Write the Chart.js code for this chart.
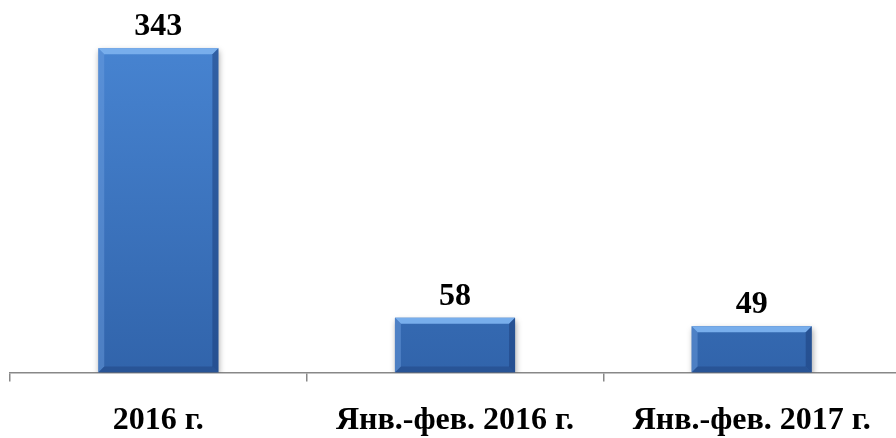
<!DOCTYPE html>
<html>
<head>
<meta charset="utf-8">
<script src="https://cdn.jsdelivr.net/npm/chart.js@4.4.1/dist/chart.umd.min.js"></script>
<style>
  html, body { margin: 0; padding: 0; background: #fff; overflow: hidden; }
  #wrap { width: 900px; height: 438px; }
</style>
</head>
<body>
<div id="wrap"><canvas id="chart"></canvas></div>
<script>
// data
const categories = ['2016 г.', 'Янв.-фев. 2016 г.', 'Янв.-фев. 2017 г.'];
const values = [343, 58, 49];
const yMax = 394;

const FONT = '"Liberation Serif", "Times New Roman", serif';

// soft shadow under bars, bevel look on each bar + value label above
const bevelPlugin = {
    id: 'bevel',
    beforeDatasetsDraw(chart) {
        const c = chart.ctx;
        c.save();
        c.shadowColor = 'rgba(0,0,0,0.35)';
        c.shadowBlur = 6;
        c.shadowOffsetX = 1;
        c.shadowOffsetY = 3;
    },
    afterDatasetsDraw(chart) {
        const c = chart.ctx;
        c.restore();
        const meta = chart.getDatasetMeta(0);
        meta.data.forEach((bar, i) => {
            const left = bar.x - bar.width / 2;
            const right = bar.x + bar.width / 2;
            const top = bar.y;
            const bottom = bar.base;
            const b = 6;
            c.save();
            // top edge
            c.fillStyle = '#78aeec';
            c.beginPath();
            c.moveTo(left, top); c.lineTo(right, top);
            c.lineTo(right - b, top + b); c.lineTo(left + b, top + b);
            c.closePath(); c.fill();
            // left edge
            c.fillStyle = 'rgba(110,160,225,0.45)';
            c.beginPath();
            c.moveTo(left, top); c.lineTo(left + b, top + b);
            c.lineTo(left + b, bottom - b); c.lineTo(left, bottom);
            c.closePath(); c.fill();
            // right edge
            c.fillStyle = 'rgba(25,60,120,0.5)';
            c.beginPath();
            c.moveTo(right, top); c.lineTo(right - b, top + b);
            c.lineTo(right - b, bottom - b); c.lineTo(right, bottom);
            c.closePath(); c.fill();
            // bottom edge
            c.fillStyle = 'rgba(30,65,125,0.45)';
            c.beginPath();
            c.moveTo(left, bottom); c.lineTo(left + b, bottom - b);
            c.lineTo(right - b, bottom - b); c.lineTo(right, bottom);
            c.closePath(); c.fill();
            // value label
            c.fillStyle = '#000';
            c.font = 'bold 32px ' + FONT;
            c.textAlign = 'center';
            c.textBaseline = 'alphabetic';
            c.fillText(values[i], bar.x, top - 13);
            c.restore();
        });
    }
};

const ctx = document.getElementById('chart').getContext('2d');
const grad = (context) => {
    const area = context.chart.chartArea;
    if (!area) return '#3d72bf';
    const g = context.chart.ctx.createLinearGradient(0, area.top, 0, area.bottom);
    g.addColorStop(0, '#4a88d6');
    g.addColorStop(1, '#3164ab');
    return g;
};

new Chart(ctx, {
    type: 'bar',
    data: {
        labels: categories,
        datasets: [{
            data: values,
            backgroundColor: grad,
            borderWidth: 0,
            barPercentage: 0.81,
            categoryPercentage: 0.5
        }]
    },
    options: {
        responsive: true,
        maintainAspectRatio: false,
        animation: false,
        layout: { padding: { left: 10, right: 0, top: 0, bottom: -22 } },
        plugins: {
            legend: { display: false },
            tooltip: { enabled: false }
        },
        scales: {
            x: {
                border: { display: true, color: '#888', width: 1.5 },
                grid: {
                    drawOnChartArea: false,
                    drawTicks: true,
                    tickLength: 9,
                    color: '#888',
                    lineWidth: 1.5
                },
                ticks: {
                    color: '#000',
                    padding: 20,
                    maxRotation: 0,
                    font: { family: FONT, size: 32, weight: 'bold' }
                }
            },
            y: {
                display: false,
                min: 0,
                max: yMax
            }
        }
    },
    plugins: [bevelPlugin]
});
</script>
</body>
</html>
